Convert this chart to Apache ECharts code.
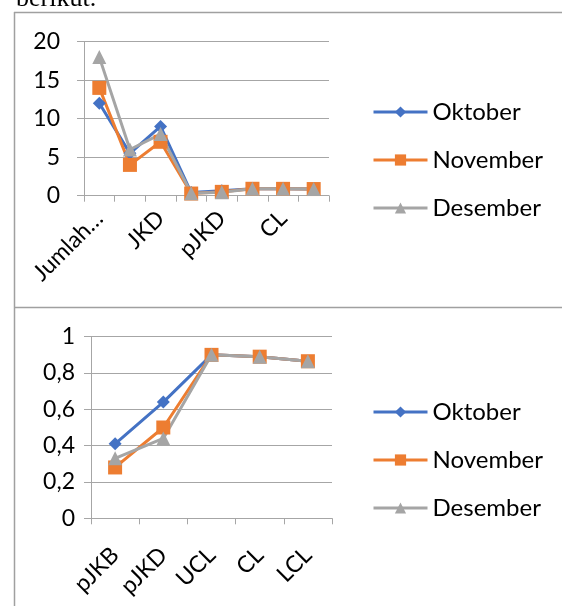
<!DOCTYPE html>
<html>
<head>
<meta charset="utf-8">
<script src="https://cdn.jsdelivr.net/npm/echarts@6/dist/echarts.min.js"></script>
<style>
html,body{margin:0;padding:0;background:#fff;}
#main{width:562px;height:606px;}
</style>
</head>
<body>
<div id="main"></div>
<script>
//上图类别
var katAtas = ['Jumlah…', 'JKB', 'JKD', 'pJKB', 'pJKD', 'UCL', 'CL', 'LCL'];
var oktAtas = [12, 5.5, 9, 0.41, 0.64, 0.9, 0.89, 0.865];
var novAtas = [14, 4, 7, 0.28, 0.5, 0.9, 0.89, 0.865];
var desAtas = [18, 6, 8, 0.33, 0.44, 0.9, 0.89, 0.865];
//下图类别
var katBawah = ['pJKB', 'pJKD', 'UCL', 'CL', 'LCL'];
var oktBawah = [0.41, 0.64, 0.9, 0.89, 0.865];
var novBawah = [0.28, 0.5, 0.9, 0.89, 0.865];
var desBawah = [0.33, 0.44, 0.9, 0.89, 0.865];
var namaSeri = ['Oktober', 'November', 'Desember'];

var warna = ['#4472C4', '#ED7D31', '#A5A5A5'];
var simbol = ['diamond', 'rect', 'triangle'];
var font = 'Lato';
var gridColor = '#a6a6a6';

function seri(name, data, idx, k) {
	return {
		name: name,
		type: 'line',
		xAxisIndex: idx,
		yAxisIndex: idx,
		data: data,
		symbol: simbol[k],
		symbolSize: k == 0 ? 13 : 14,
		lineStyle: {width: 3, color: warna[k]},
		itemStyle: {color: warna[k]},
		animation: false
	};
}

function sumbuX(idx, data, interval, margin) {
	return {
		type: 'category',
		gridIndex: idx,
		data: data,
		boundaryGap: true,
		axisLine: {lineStyle: {color: gridColor, width: 1}},
		axisTick: {show: true, interval: 0, length: 6, lineStyle: {color: gridColor}},
		axisLabel: {
			interval: interval,
			rotate: 45,
			margin: margin,
			color: '#000',
			fontFamily: font,
			fontSize: 23
		}
	};
}

function sumbuY(idx, max, interval, margin, fmt) {
	return {
		type: 'value',
		gridIndex: idx,
		min: 0,
		max: max,
		interval: interval,
		axisLine: {show: true, lineStyle: {color: gridColor, width: 1}},
		axisTick: {show: true, length: 7, lineStyle: {color: gridColor}},
		splitLine: {lineStyle: {color: gridColor, width: 1}},
		axisLabel: {
			margin: margin,
			color: '#000',
			fontFamily: font,
			fontSize: 23,
			formatter: fmt
		}
	};
}

function legenda(top) {
	return {
		orient: 'vertical',
		left: 372,
		top: top,
		padding: 0,
		data: namaSeri,
		itemWidth: 54,
		itemHeight: 14,
		itemGap: 24,
		lineStyle: {width: 3},
		textStyle: {fontFamily: font, fontSize: 24, color: '#000', lineHeight: 24}
	};
}

var myChart = echarts.init(document.getElementById('main'));
var option = {
	backgroundColor: '#fff',
	animation: false,
	legend: [legenda(100), legenda(400)],
	grid: [
		{left: 84, top: 41.7, width: 245, height: 154},
		{left: 91, top: 336.7, width: 241, height: 181.6}
	],
	xAxis: [sumbuX(0, katAtas, 1, 19), sumbuX(1, katBawah, 0, 33)],
	yAxis: [
		sumbuY(0, 20, 5, 24, function(v) { return v; }),
		sumbuY(1, 1, 0.2, 16, function(v) { return String(Math.round(v * 10) / 10).replace('.', ','); })
	],
	series: [
		seri(namaSeri[0], oktAtas, 0, 0),
		seri(namaSeri[1], novAtas, 0, 1),
		seri(namaSeri[2], desAtas, 0, 2),
		seri(namaSeri[0], oktBawah, 1, 0),
		seri(namaSeri[1], novBawah, 1, 1),
		seri(namaSeri[2], desBawah, 1, 2)
	],
	graphic: [
		{type: 'text', left: 16, top: -14, style: {text: 'berikut.', font: '26px "Liberation Serif"', fill: '#000'}},
		{type: 'line', shape: {x1: 14.5, y1: 12, x2: 14.5, y2: 606}, style: {stroke: '#a0a0a0', lineWidth: 1.5}},
		{type: 'line', shape: {x1: 14, y1: 12.5, x2: 562, y2: 12.5}, style: {stroke: '#a0a0a0', lineWidth: 1.5}},
		{type: 'line', shape: {x1: 14, y1: 307.5, x2: 562, y2: 307.5}, style: {stroke: '#a0a0a0', lineWidth: 1.5}}
	]
};
if (option && typeof option === "object") {
	myChart.setOption(option, true);
}
</script>
</body>
</html>
